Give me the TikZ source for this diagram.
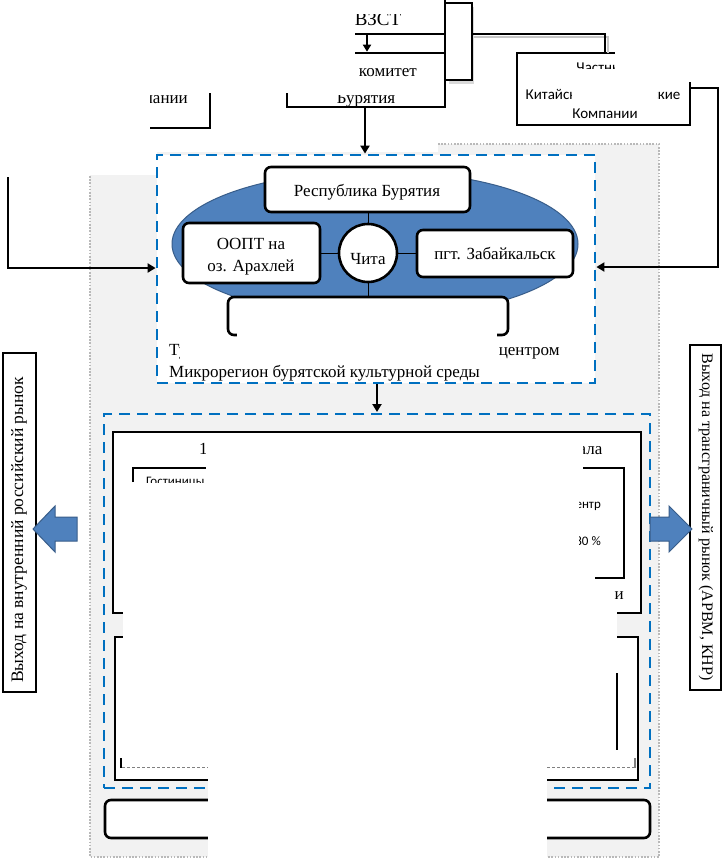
\documentclass[tikz,border=0pt]{standalone}
\usepackage{fontspec}
\setmainfont{Liberation Serif}
\newfontfamily\calib{Carlito}
\usetikzlibrary{arrows.meta,shapes.geometric,fit}
\definecolor{dblue}{HTML}{0070C0}
\definecolor{ellc}{HTML}{4F81BD}
\definecolor{ellb}{HTML}{385D8A}
\definecolor{bgg}{HTML}{F2F2F2}
\begin{document}
\begin{tikzpicture}[x=1pt,y=-1pt,
  blk/.style={draw=black,line width=2.6pt},
  bluedash/.style={draw=dblue,line width=2.8pt,dash pattern=on 11pt off 7pt},
  rbox/.style={draw=black,line width=2.6pt,fill=white,rounded corners=6pt,inner sep=0pt},
  sqbox/.style={draw=black,line width=2.6pt,fill=white,inner sep=0pt},
  txt/.style={font=\fontsize{17}{20}\selectfont,inner sep=0pt,align=center},
  stxt/.style={font=\calib\fontsize{15}{18}\selectfont,inner sep=0pt,align=center},
  smtxt/.style={font=\calib\fontsize{13}{15}\selectfont,inner sep=0pt},
  conn/.style={draw=black,line width=2.4pt,-{Triangle[length=8pt,width=9pt]}},
  shad/.style={draw=gray!45,line width=2.4pt},
  bigarrow/.style={fill=ellc,draw=ellb,line width=1pt},
]
\useasboundingbox (0,0) rectangle (723,860);
\fill[white] (0,0) rectangle (723,860);

% grey background region
\draw[fill=bgg,draw=gray!55,line width=1.6pt,dash pattern=on 1.6pt off 1.6pt] (90,144) rectangle (659,857);
\fill[white] (84,130) rectangle (157,175);
\fill[white] (157,130) rectangle (438,152);

% ---------- top boxes ----------
\node[sqbox,fit={(300,-10)(445,34)}] (vzst) {};
\node[txt,anchor=base,font=\fontsize{19}{22}\selectfont] at (378,25) {ВЗСТ};
\node[sqbox,fit={(287,53)(445,107)}] (gov) {};
\node[txt,anchor=base east] at (417,76) {Туристский комитет};
\node[txt,anchor=base] (govt) at (366,103) {Бурятия};
\node[sqbox,fit={(40,30)(210,128)}] (lt) {};
\node[txt,anchor=base east] at (188,103) {Российские компании};

% shadowed bracket to the right of the two boxes
\fill[gray!30] (449,7) rectangle (474,84);
\node[draw=black,line width=2.6pt,fill=white,inner sep=0pt,fit={(445,3)(472,80)}] (brk) {};
\draw[blk] (445,0) -- (445,107);

\node[sqbox,fit={(517,53)(690,125)}] (comp) {};
\node[stxt,anchor=base] at (603,72) {Частные};
\node[stxt,anchor=base] at (603,99) {Китайские и российские};
\node[stxt,anchor=base] at (605,118) {Компании};

% connector from bracket to "Компании"
\draw[shad] (474,37) -| (608,53);
\draw[blk] (brk.east |- 0,34) -| (605,53);

% arrow between the two top boxes
\draw[-{Triangle[length=7pt,width=8pt]},line width=2pt] (367,34) -- (gov.north -| 367,0);

% ---------- first dashed block ----------
\node[bluedash,fill=white,inner sep=0pt,fit={(157,155)(595,383)}] (blk1) {};
\node[ellipse,fill=ellc,draw=ellb,line width=1pt,minimum width=406pt,minimum height=146pt,inner sep=0pt] (ell) at (375,244) {};

\node[rbox,fit={(265,167)(470,212)}] (rb) {};
\node[txt,anchor=base] at (367,196) {Республика Бурятия};
\node[rbox,fit={(183,223)(320,283)}] (lb) {};
\node[txt,anchor=base] at (251,249) {ООПТ на};
\node[txt,anchor=base] at (251,271) {оз. Арахлей};
\node[rbox,fit={(417,230)(573,277)}] (zb) {};
\node[txt,anchor=base] at (495,259) {пгт. Забайкальск};
\node[rbox,fit={(228,297)(508,335)}] (bb) {};
\node[circle,draw=black,line width=2.6pt,fill=white,minimum size=58pt,inner sep=0pt] (chita) at (368,253) {};
\node[txt,anchor=base] at (368,264) {Чита};

\draw[line width=1pt] (rb.south -| chita) -- (chita.north);
\draw[line width=1pt] (chita.south) -- (bb.north -| chita);
\draw[line width=1pt] (lb.east |- chita) -- (chita.west);
\draw[line width=1pt] (chita.east) -- (zb.west |- chita);

\node[txt,anchor=base west] at (169,355) {Туристско-рекреационный кластер с единым центром};
\node[txt,anchor=base west] at (169,377) {Микрорегион бурятской культурной среды};

\fill[white] (237,306) rectangle (497,362);
\fill[white] (180,337) rectangle (497,362);

% side connectors
\coordinate (lstart) at (8,177);
\coordinate (rstart) at (690,88);
\draw[conn] (lstart) |- (blk1.west |- 0,268);
\draw[conn] (rstart) -- (718,88) |- (blk1.east |- 0,267);
\draw[conn] (gov.south -| 365,0) -- (blk1.north -| 365,0);

% ---------- second dashed block ----------
\draw[conn] (blk1.south -| 377,0) -- (377,412);
\node[bluedash,inner sep=0pt,fit={(104,414)(650,788)}] (blk2) {};

\node[sqbox,fit={(113,432)(641,613)}] (ba) {};
\node[txt,anchor=base west] at (199,454) {1 уровень: туристско-рекреационная зона у оз. Байкала};
\draw[line width=2.6pt] (133,482) -- (133,468) -- (624,468) -- (624,578) -- (595,578);
\node[smtxt,anchor=base west] at (146,485) {Гостиницы и турбазы};
\node[smtxt,anchor=base east] at (601,508) {Туристский центр};
\node[smtxt,anchor=base east] at (601,545) {Загрузка 80 \%};
\node[txt,anchor=base east] at (624,599) {Трансграничная зона и};

\node[sqbox,fit={(115,637)(638,780)}] (bbox) {};
\draw[line width=1.4pt] (617,673) -- (617,750);
\draw[gray,line width=0.8pt,dash pattern=on 3pt off 2pt] (122,767) -- (634,767);
\draw[line width=1.2pt] (121,758) -- (121,768);
\draw[gray,line width=1.2pt] (635,758) -- (635,768);

\node[rbox,fit={(105,800)(650,838)}] (bot) {};

% covers of the lower part
\fill[white] (206,440) rectangle (583,483);
\fill[white] (125,483) rectangle (579,605);
\fill[white] (579,550) rectangle (593,605);
\fill[white] (593,582) rectangle (612,605);
\fill[white] (123,605) rectangle (617,641);
\fill[white] (208,641) rectangle (547,860);
\fill[white] (125,641) rectangle (612,757);

% ---------- side boxes and block arrows ----------
\node[sqbox,fit={(3,353)(36,692)}] (lside) {};
\node[txt,rotate=90,font=\fontsize{17.5}{20}\selectfont] at (19,530) {Выход на внутренний российский рынок};
\node[sqbox,fit={(690,345)(721,690)}] (rside) {};
\node[txt,rotate=-90,font=\fontsize{16}{19}\selectfont] at (706,517) {Выход на трансграничный рынок (АРВМ, КНР)};

\draw[bigarrow] (33,529) -- (55,506) -- (55,517) -- (77,517) -- (77,541) -- (55,541) -- (55,552) -- cycle;
\draw[bigarrow] (692,529) -- (669,506) -- (669,517) -- (650,517) -- (650,541) -- (669,541) -- (669,552) -- cycle;

% ---------- top covers ----------
\fill[white] (0,0) rectangle (355,93);
\fill[white] (0,93) rectangle (150,175);
\fill[white] (355,0) rectangle (441,14);
\fill[white] (300,56) rectangle (355,93);
\fill[white] (357,56) rectangle (441,67);
\fill[white] (300,84) rectangle (441,95);
\fill[white] (615,40) rectangle (700,82);
\fill[white] (572,84) rectangle (657,104);
\fill[white] (560,69) rectangle (615,82);
\end{tikzpicture}
\end{document}
